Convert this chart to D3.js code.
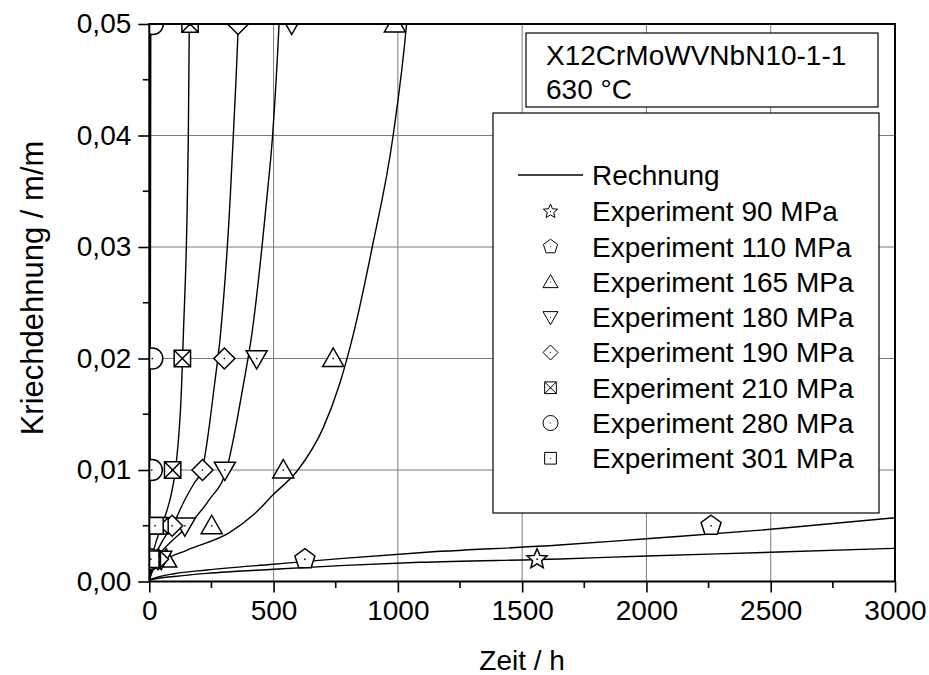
<!DOCTYPE html>
<html>
<head>
<meta charset="utf-8">
<script src="https://cdn.jsdelivr.net/npm/d3@7"></script>
<style>
  html, body { margin: 0; padding: 0; background: #fff; }
  svg { display: block; font-family: "Liberation Sans", Arial, sans-serif; }
</style>
</head>
<body>
<svg id="chart" width="929" height="675"></svg>
<script>
// Calculated creep curves (Rechnung): [time h, strain m/m]
const calc90  = [[0,0],[5,0.00012],[20,0.00022],[100,0.00045],[231,0.00073],[500,0.0011],[767,0.00142],[1088,0.00172],[1652,0.00202],[2000,0.00229],[2500,0.00262],[3000,0.00298]];
const calc110 = [[0,0],[5,0.00018],[20,0.0003],[100,0.0007],[231,0.00103],[500,0.00155],[767,0.00205],[1088,0.00258],[1650,0.00327],[2000,0.00384],[2500,0.00468],[3000,0.00572]];
const calc165 = [[0,0],[10,0.0008],[63,0.0019],[150,0.0028],[324,0.0044],[420,0.006],[499,0.0078],[598,0.010],[700,0.0138],[764,0.0176],[820,0.0221],[897,0.030],[981,0.040],[1035,0.050],[1050,0.054]];
const calc180 = [[0,0],[10,0.001],[40,0.0024],[80,0.0034],[156,0.005],[240,0.0073],[310,0.010],[378,0.0176],[412,0.0221],[472,0.0342],[496,0.040],[522,0.050],[530,0.054]];
const calc190 = [[0,0],[10,0.0013],[30,0.0026],[60,0.0039],[100,0.0053],[140,0.0072],[180,0.0088],[212,0.010],[262,0.0176],[286,0.0221],[325,0.0342],[338,0.040],[358,0.050],[364,0.054]];
const calc210 = [[0,0],[5,0.0014],[20,0.003],[45,0.0047],[70,0.0063],[88,0.0078],[105,0.010],[130,0.0176],[137,0.0221],[153,0.0342],[157,0.040],[161,0.050],[163,0.054]];
const calc280 = [[0,0],[0.5,0.0015],[1.5,0.004],[3,0.01],[4,0.02],[5,0.035],[6,0.050],[6.5,0.056]];
const calc301 = [[0,0],[0.4,0.002],[1.2,0.006],[2,0.012],[2.8,0.025],[3.5,0.040],[4,0.050],[4.3,0.056]];

// Experimental points: [time h, strain m/m]
const exp90  = [[1560,0.002]];
const exp110 = [[626,0.002],[2260,0.005]];
const exp165 = [[68,0.002],[251,0.005],[539,0.01],[740,0.02],[988,0.05]];
const exp180 = [[48,0.002],[143,0.005],[304,0.01],[432,0.02],[573,0.05]];
const exp190 = [[35,0.002],[92,0.005],[214,0.01],[302,0.02],[357,0.05]];
const exp210 = [[12,0.002],[43,0.005],[94,0.01],[133,0.02],[164,0.05]];
const exp280 = [[2,0.002],[10,0.01],[12,0.02],[14,0.05]];
const exp301 = [[6,0.002],[23,0.005]];

const legendLabels = ["Experiment 90 MPa","Experiment 110 MPa","Experiment 165 MPa","Experiment 180 MPa",
                      "Experiment 190 MPa","Experiment 210 MPa","Experiment 280 MPa","Experiment 301 MPa"];
const symbolNames = ["star","pentagon","triUp","triDown","diamond","boxX","circle","square"];
const xTicks = [0,500,1000,1500,2000,2500,3000];
const yTicks = [0,0.01,0.02,0.03,0.04,0.05];
const xTitle = "Zeit / h";
const yTitle = "Kriechdehnung / m/m";
const infoLines = ["X12CrMoWVNbN10-1-1","630 °C"];

const curves = [calc90, calc110, calc165, calc180, calc190, calc210, calc280, calc301];
const experiments = [exp90, exp110, exp165, exp180, exp190, exp210, exp280, exp301];

const svg = d3.select("#chart");
const pL = 149.3, pR = 895, pT = 24, pB = 581.5;
const x = d3.scaleLinear().domain([0,3000]).range([pL,pR]);
const y = d3.scaleLinear().domain([0,0.05]).range([pB,pT]);

svg.append("defs").append("clipPath").attr("id","plotClip")
  .append("rect").attr("x",pL).attr("y",pT).attr("width",pR-pL).attr("height",pB-pT);

// grid lines at major ticks
const grid = svg.append("g").attr("stroke","#7a7a7a").attr("stroke-width",1);
xTicks.slice(1,-1).forEach(t => grid.append("line").attr("x1",x(t)).attr("x2",x(t)).attr("y1",pT).attr("y2",pB));
yTicks.slice(1,-1).forEach(t => grid.append("line").attr("x1",pL).attr("x2",pR).attr("y1",y(t)).attr("y2",y(t)));

// axes
const fmtY = d => d3.format(".2f")(d).replace(".", ",");
const xAxis = d3.axisBottom(x).tickValues(xTicks).tickSize(11).tickPadding(8).tickFormat(d3.format("d"));
const yAxis = d3.axisLeft(y).tickValues(yTicks).tickSize(11).tickPadding(7).tickFormat(fmtY);
const gx = svg.append("g").attr("transform",`translate(0,${pB})`).call(xAxis);
const gy = svg.append("g").attr("transform",`translate(${pL},0)`).call(yAxis);
[gx, gy].forEach(g => {
  g.select(".domain").remove();
  g.selectAll(".tick line").attr("stroke","#000").attr("stroke-width",1.6);
  g.selectAll(".tick text").attr("font-size",28).attr("fill","#000").attr("font-family","Liberation Sans, Arial, sans-serif");
});
// minor ticks
const xMinor = d3.range(250,3000,500), yMinor = d3.range(0.005,0.05,0.01);
svg.append("g").selectAll("line").data(xMinor).join("line")
  .attr("x1",d=>x(d)).attr("x2",d=>x(d)).attr("y1",pB).attr("y2",pB+6.5).attr("stroke","#000").attr("stroke-width",1.6);
svg.append("g").selectAll("line").data(yMinor).join("line")
  .attr("x1",pL-6.5).attr("x2",pL).attr("y1",d=>y(d)).attr("y2",d=>y(d)).attr("stroke","#000").attr("stroke-width",1.6);

// symbol paths centred on 0,0 for a given half-size r
function symbolPath(name, r) {
  const p = d3.path();
  if (name === "circle") { p.arc(0,0,r,0,2*Math.PI); }
  else if (name === "square" || name === "boxX") {
    const s = r*0.78;
    p.rect(-s,-s,2*s,2*s);
    if (name === "boxX") { p.moveTo(-s,-s); p.lineTo(s,s); p.moveTo(s,-s); p.lineTo(-s,s); }
  }
  else if (name === "diamond") { p.moveTo(0,-r); p.lineTo(r,0); p.lineTo(0,r); p.lineTo(-r,0); p.closePath(); }
  else if (name === "triUp") { p.moveTo(0,-r); p.lineTo(r,r*0.75); p.lineTo(-r,r*0.75); p.closePath(); }
  else if (name === "triDown") { p.moveTo(0,r); p.lineTo(r,-r*0.75); p.lineTo(-r,-r*0.75); p.closePath(); }
  else if (name === "pentagon") {
    for (let i=0;i<5;i++){ const a=-Math.PI/2+i*2*Math.PI/5; const px=r*Math.cos(a), py=r*Math.sin(a); i?p.lineTo(px,py):p.moveTo(px,py);} p.closePath();
  }
  else if (name === "star") {
    for (let i=0;i<10;i++){ const rr = i%2? r*0.45 : r; const a=-Math.PI/2+i*Math.PI/5; const px=rr*Math.cos(a), py=rr*Math.sin(a); i?p.lineTo(px,py):p.moveTo(px,py);} p.closePath();
  }
  return p.toString();
}
function drawSymbol(g, name, cx, cy, r, sw) {
  const s = g.append("g").attr("transform",`translate(${cx},${cy})`);
  s.append("path").attr("d",symbolPath(name,r)).attr("fill","#fff").attr("stroke","#000").attr("stroke-width",sw).attr("stroke-linejoin","miter");
  s.append("circle").attr("r",Math.max(0.6, r*0.08)).attr("fill","#000");
}

// curves and markers inside the plot area
const plot = svg.append("g").attr("clip-path","url(#plotClip)");
const line = d3.line().x(d=>x(d[0])).y(d=>y(d[1])).curve(d3.curveMonotoneX);
plot.append("g").selectAll("path").data(curves).join("path")
  .attr("d",line).attr("fill","none").attr("stroke","#000").attr("stroke-width",1.4);
experiments.forEach((pts,i) => {
  pts.forEach(p => drawSymbol(plot, symbolNames[i], x(p[0]), y(p[1]), 10.5, 1.5));
});

// frame
svg.append("rect").attr("x",pL).attr("y",pT).attr("width",pR-pL).attr("height",pB-pT)
  .attr("fill","none").attr("stroke","#000").attr("stroke-width",2);

// info box
svg.append("rect").attr("x",526).attr("y",33).attr("width",352).attr("height",74)
  .attr("fill","#fff").attr("stroke","#000").attr("stroke-width",1.2);
svg.append("g").selectAll("text").data(infoLines).join("text")
  .attr("x",546).attr("y",(d,i)=>65+i*34).attr("font-size",28).text(d=>d);

// legend
const lg = svg.append("g");
lg.append("rect").attr("x",493).attr("y",113).attr("width",386).attr("height",400)
  .attr("fill","#fff").attr("stroke","#000").attr("stroke-width",1.2);
lg.append("line").attr("x1",518).attr("x2",583).attr("y1",175).attr("y2",175).attr("stroke","#000").attr("stroke-width",1.4);
lg.append("text").attr("x",592).attr("y",175).attr("dy","0.35em").attr("font-size",28).text("Rechnung");
legendLabels.forEach((lab,i) => {
  const yy = 211.5 + i*35.25;
  drawSymbol(lg, symbolNames[i], 550.5, yy, 7.5, 1);
  lg.append("text").attr("x",592).attr("y",yy).attr("dy","0.35em").attr("font-size",28).text(lab);
});

// axis titles
svg.append("text").attr("x",(pL+pR)/2).attr("y",670).attr("text-anchor","middle").attr("font-size",28).text(xTitle);
svg.append("text").attr("transform","translate(43,288) rotate(-90)").attr("text-anchor","middle").attr("font-size",31).text(yTitle);
</script>
</body>
</html>
